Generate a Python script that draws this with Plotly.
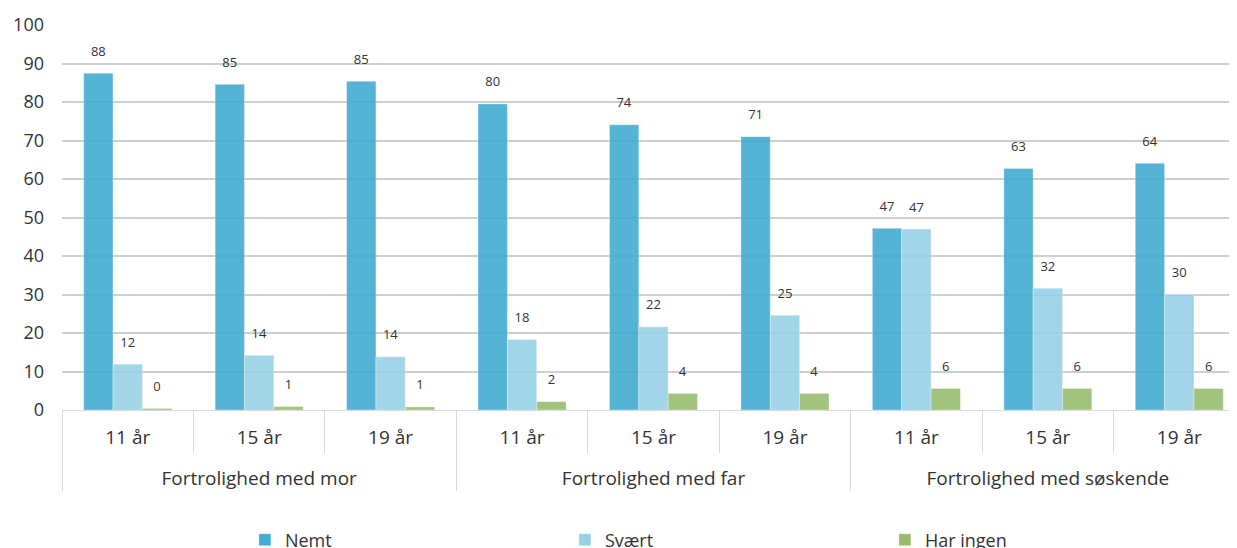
import plotly.graph_objects as go

groups = ["Fortrolighed med mor", "Fortrolighed med far", "Fortrolighed med søskende"]
ages = ["11 år", "15 år", "19 år"]
nemt = [87.5, 84.6, 85.4, 79.5, 74.1, 71.0, 47.2, 62.7, 64.1]
svaert = [11.9, 14.2, 13.8, 18.3, 21.6, 24.6, 47.0, 31.6, 30.0]
har_ingen = [0.4, 0.9, 0.8, 2.2, 4.3, 4.3, 5.6, 5.6, 5.6]
y_ticks = [0, 10, 20, 30, 40, 50, 60, 70, 80, 90, 100]

NB = "\u00a0"
BIG = "<span style='font-size:19px'>{}</span>"
age_labels = [BIG.format(a) for a in ages]
group_labels = ["<br><br>" + BIG.format(g) for g in groups]
x = [[g for g in group_labels for a in ages], [a for g in groups for a in age_labels]]

series = [
    ("Nemt", nemt, "#43ACD1"),
    ("Svært", svaert, "#97D1E5"),
    ("Har ingen", har_ingen, "#99BD70"),
]

fig = go.Figure()
for name, vals, color in series:
    fig.add_trace(go.Bar(
        x=x, y=vals, name=name,
        marker=dict(color=color, opacity=0.9,
                    line=dict(width=1, color="rgba(255,255,255,0.35)")),
        text=[f"{v:.0f}<br><sup>{NB}</sup>" for v in vals],
        textposition="outside",
        textfont=dict(family="Open Sans", size=13, color="#333333"),
        cliponaxis=False,
    ))

fig.update_layout(
    width=1237, height=548,
    margin=dict(l=54, r=0, t=17, b=146),
    paper_bgcolor="white", plot_bgcolor="white",
    barmode="group", bargap=0.33, bargroupgap=0,
    font=dict(family="Open Sans", color="#333333"),
    showlegend=True,
    legend=dict(
        orientation="h", x=0.1546, xanchor="left",
        yref="container", y=1 - 532 / 548, yanchor="middle",
        font=dict(size=18, color="#333333"),
        entrywidth=275, entrywidthmode="pixels",
    ),
    xaxis=dict(
        type="multicategory",
        automargin=False,
        showline=True, linecolor="#D9D9D9", linewidth=1,
        ticks="outside", tickson="boundaries", ticklen=42, tickcolor="#D9D9D9",
        showdividers=True, dividercolor="#D9D9D9", dividerwidth=1,
        tickfont=dict(size=12, color="#333333"),
        ticklabelstandoff=19,
        showgrid=False,
    ),
    yaxis=dict(
        range=[0, 100], tickvals=y_ticks,
        automargin=False,
        showgrid=True, gridcolor="#CFCFCF", gridwidth=2,
        zeroline=False,
        tickfont=dict(size=18, color="#333333"),
        ticks="", ticklabelstandoff=17,
    ),
)

fig.write_html("out.html")
